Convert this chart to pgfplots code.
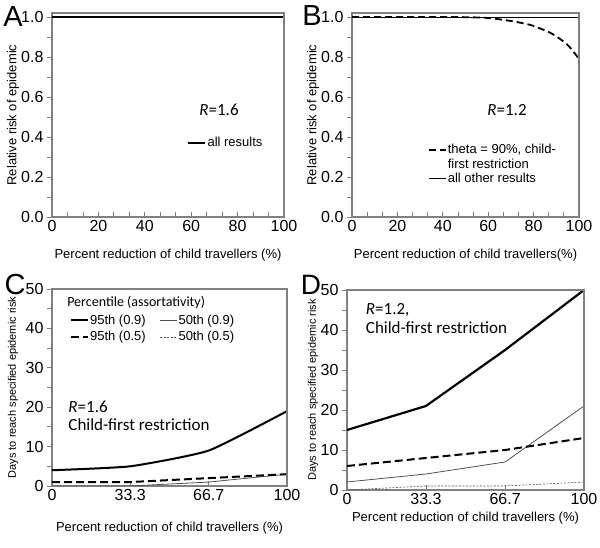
\documentclass[border=0pt]{standalone}
\usepackage{pgfplots}
\pgfplotsset{compat=1.18}
\usepackage{fontspec}
\setmainfont{Liberation Sans}
\newfontfamily\carlito{Carlito}
\definecolor{axgray}{HTML}{808080}
\definecolor{thingray}{HTML}{505050}

\pgfplotsset{
  panel/.style={scale only axis, anchor=south west, xmin=0, xmax=100, ymin=0,
    axis line style={axgray, line width=1.1pt},
    tick style={axgray, line width=0.8pt},
    major tick length=5pt, minor tick length=5pt,
    xtick align=inside, ytick align=outside,
    xtick pos=bottom, ytick pos=left,
    ticklabel style={font=\fontsize{16}{16}\selectfont},
    /pgf/number format/assume math mode=true,
    label style={font=\fontsize{13}{13}\selectfont},
    legend style={draw=none, fill=none, inner sep=0pt, outer sep=0pt,
      font=\fontsize{13}{13}\selectfont, nodes={inner sep=1pt}},
    legend cell align=left},
  shortline/.style={legend image code/.code={\draw[##1] (0pt,0pt) -- (17pt,0pt);}},
  riskaxis/.style={ymax=1.02, xtick={0,20,...,100}, minor x tick num=2,
    ytick={0,0.2,...,1.0}, minor y tick num=1,
    yticklabel style={/pgf/number format/.cd, fixed, fixed zerofill, precision=1},
    xlabel={Percent reduction of child travellers (\%)},
    ylabel={Relative risk of epidemic}},
  daysaxis/.style={ymax=50, xtick={0,33.3,66.7,100}, xticklabels={0,33.3,66.7,100},
    ytick={0,10,...,50}, minor y tick num=1,
    xlabel={Percent reduction of child travellers (\%)},
    ylabel={Days to reach specified epidemic risk},
    ylabel style={font=\fontsize{11}{11}\selectfont}},
}

\begin{document}
\begin{tikzpicture}
\path[use as bounding box] (0,0) rectangle (600pt,548pt);

% A
\begin{axis}[panel, riskaxis, name=pa, at={(52pt,331pt)}, width=232pt, height=204pt,
  xlabel style={at={(axis description cs:0.5,-0.186)}, anchor=center},
  ylabel style={at={(axis description cs:-0.168,0.5)}, anchor=center},
  legend style={at={(rel axis cs:0.582,0.363)}, anchor=west}]
\addplot[black, line width=2.5pt, shortline] coordinates {(0,1) (100,1)};
\addlegendentry{all results}
\node[font=\carlito\fontsize{17}{17}\selectfont] at (rel axis cs:0.72,0.525) {\textit{R}=1.6};
\end{axis}

% B
\begin{axis}[panel, riskaxis, name=pb, at={(352pt,331pt)}, width=227pt, height=204pt,
  xlabel={Percent reduction of child travellers(\%)},
  xlabel style={at={(axis description cs:0.5,-0.186)}, anchor=center},
  ylabel style={at={(axis description cs:-0.172,0.5)}, anchor=center},
  legend style={at={(rel axis cs:0.335,0.36)}, anchor=north west, row sep=1.5pt}]
\addplot[black, line width=1.8pt, dash pattern=on 7pt off 4pt, smooth, shortline] coordinates {
  (0,1) (40,1) (50,0.999) (60,0.995) (70,0.98) (76,0.967) (80,0.955) (88,0.917) (95,0.86) (100,0.79)};
\addlegendentry{theta = 90\%, child-}
\addlegendimage{empty legend}
\addlegendentry{first restriction}
\addplot[black, line width=0.8pt, shortline] coordinates {(0,1) (100,1)};
\addlegendentry{all other results}
\node[font=\carlito\fontsize{17}{17}\selectfont] at (rel axis cs:0.683,0.525) {\textit{R}=1.2};
\end{axis}

% C
\begin{axis}[panel, daysaxis, name=pc, at={(52pt,62pt)}, width=235pt, height=197pt,
  xlabel style={at={(axis description cs:0.5,-0.213)}, anchor=center},
  ylabel style={at={(axis description cs:-0.166,0.5)}, anchor=center},
  legend columns=2,
  legend style={at={(rel axis cs:0.077,0.875)}, anchor=north west, row sep=4pt,
    /tikz/every even column/.append style={column sep=13pt}}]
\addplot[black, line width=2pt, smooth, tension=0.3, shortline] coordinates {(0,4) (33.3,5) (66.7,9) (100,19)};
\addlegendentry{95th (0.9)}
\addplot[thingray, line width=0.8pt, shortline] coordinates {(0,0) (33.3,0) (66.7,1) (100,3)};
\addlegendentry{50th (0.9)}
\addplot[black, line width=2pt, dash pattern=on 8pt off 4pt, shortline] coordinates {(0,1) (33.3,1) (66.7,2) (100,3)};
\addlegendentry{95th (0.5)}
\addplot[thingray, line width=0.6pt, dash pattern=on 2pt off 1.5pt, shortline] coordinates {(0,0) (33.3,0) (66.7,0) (100,0)};
\addlegendentry{50th (0.5)}
\node[font=\carlito\fontsize{14}{14}\selectfont, anchor=west] at (rel axis cs:0.05,0.929) {Percentile (assortativity)};
\node[font=\carlito\fontsize{17}{17}\selectfont, anchor=west] at (rel axis cs:0.055,0.401) {\textit{R}=1.6};
\node[font=\carlito\fontsize{17}{17}\selectfont, anchor=west] at (rel axis cs:0.055,0.31) {Child-first restriction};
\end{axis}

% D
\begin{axis}[panel, daysaxis, name=pd, at={(347pt,58pt)}, width=237pt, height=200pt, clip=false,
  xlabel style={at={(axis description cs:0.5,-0.14)}, anchor=center},
  ylabel style={at={(axis description cs:-0.143,0.5)}, anchor=center}]
\addplot[black, line width=2.2pt] coordinates {(0,15) (33.3,21) (66.7,35) (100,50)};
\addplot[thingray, line width=0.8pt] coordinates {(0,2) (33.3,4) (66.7,7) (100,21)};
\addplot[black, line width=2pt, dash pattern=on 8pt off 4pt] coordinates {(0,6) (33.3,8) (66.7,10) (100,13)};
\addplot[thingray, line width=0.6pt, dash pattern=on 2pt off 1.5pt] coordinates {(0,0) (33.3,1) (66.7,1) (100,2)};
\node[font=\carlito\fontsize{17}{17}\selectfont, anchor=west] at (rel axis cs:0.065,0.9) {\textit{R}=1.2,};
\node[font=\carlito\fontsize{17}{17}\selectfont, anchor=west] at (rel axis cs:0.065,0.81) {Child-first restriction};
\end{axis}

% top and right sides of each frame
\foreach \p in {pa,pb,pc,pd}
  \draw[axgray, line width=1.1pt] (\p.north west) -- (\p.north east) -- (\p.south east);

\node[font=\fontsize{29}{29}\selectfont] at (13pt,531pt) {A};
\node[font=\fontsize{29}{29}\selectfont] at (312pt,532pt) {B};
\node[font=\fontsize{29}{29}\selectfont] at (15pt,263pt) {C};
\node[font=\fontsize{28}{28}\selectfont] at (311pt,263pt) {D};
\end{tikzpicture}
\end{document}
